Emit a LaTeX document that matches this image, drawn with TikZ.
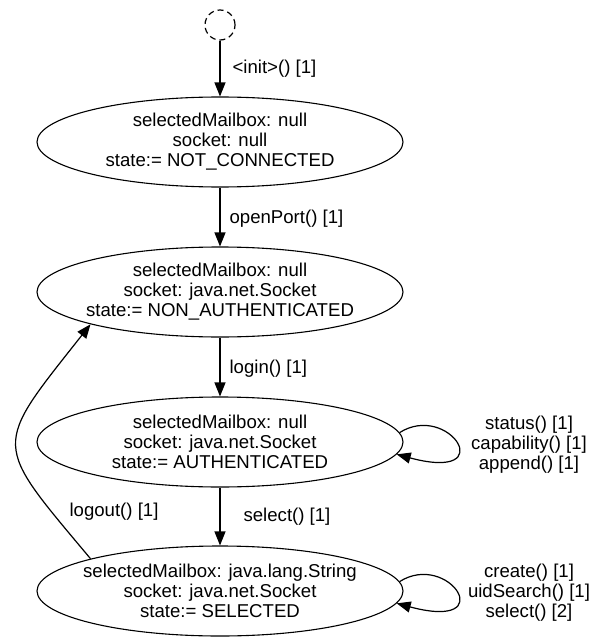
\documentclass[tikz,border=0pt]{standalone}
\usepackage{fontspec}
\setmainfont{Liberation Sans}
\usetikzlibrary{arrows.meta,shapes.geometric}

\tikzset{
	state/.style={ellipse, draw, line width=1.1pt, minimum width=366pt, minimum height=90pt,
		inner xsep=-10pt, inner ysep=0pt, align=center, font=\fontsize{18.6}{20}\selectfont},
	trans/.style={-{Triangle[length=14pt,width=11pt]}, line width=1.2pt},
	lbl/.style={font=\fontsize{18.6}{20}\selectfont, inner sep=0pt, align=center},
}

\begin{document}
\begin{tikzpicture}[x=1pt,y=-1pt]
			\useasboundingbox (0,0) rectangle (598,639);
			
			\node[circle, draw, dash pattern=on 6pt off 4pt, line width=1.2pt, minimum size=30pt, inner sep=0pt] (init) at (220,25) {};
			
			\node[state] (nc) at (220,142) {selectedMailbox: null\\socket: null\\state:= NOT\_CONNECTED};
			\node[state] (na) at (220,292) {selectedMailbox: null\\socket: java.net.Socket\\state:= NON\_AUTHENTICATED};
			\node[state] (auth) at (220,442) {selectedMailbox: null\\socket: java.net.Socket\\state:= AUTHENTICATED};
			\node[state] (sel) at (220,591) {selectedMailbox: java.lang.String\\socket: java.net.Socket\\state:= SELECTED};
			
			\draw[trans] (init) -- node[lbl, anchor=west, xshift=12pt] (initlbl) {<init>() [1]} (nc);
			\draw[trans] (nc) -- node[lbl, anchor=west, xshift=9pt, yshift=-2pt] (openlbl) {openPort() [1]} (na);
			\draw[trans] (na) -- node[lbl, anchor=west, xshift=9pt, yshift=-2pt] (loginlbl) {login() [1]} (auth);
			\draw[trans] (auth) -- node[lbl, anchor=west, xshift=23pt] (selectlbl) {select() [1]} (sel);
			
			% self loops
			\draw[trans] (auth.3) .. controls +(49,-31) and +(105,28) .. (auth.-4);
			\node[lbl] (authlbl) at (529,445) {status() [1]\\capability() [1]\\append() [1]};
			\draw[trans] (sel.3) .. controls +(49,-31) and +(105,28) .. (sel.-4);
			\node[lbl] (sellbl) at (529,593) {create() [1]\\uidSearch() [1]\\select() [2]};
			
			% back to NON_AUTHENTICATED
			\draw[trans] (sel.166) .. controls (-8,441) and (-8,449) .. (na.194);
			\node[lbl] (logoutlbl) at (114,512) {logout() [1]};
\end{tikzpicture}
\end{document}
